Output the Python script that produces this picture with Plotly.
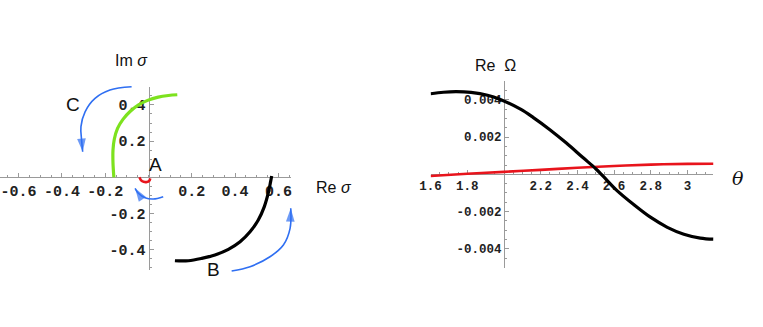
import numpy as np
import plotly.graph_objects as go

# ---------------- data: left panel (complex sigma plane) ----------------
green_re = [-0.160, -0.164, -0.164, -0.158, -0.143, -0.118, -0.084, -0.046, -0.004, 0.045, 0.092, 0.133]
green_im = [0.000, 0.080, 0.150, 0.210, 0.270, 0.320, 0.365, 0.400, 0.425, 0.443, 0.452, 0.456]

black_re = [0.122, 0.184, 0.246, 0.307, 0.369, 0.423, 0.469, 0.507, 0.535, 0.553, 0.564, 0.569]
black_im = [-0.461, -0.461, -0.448, -0.429, -0.398, -0.356, -0.301, -0.236, -0.162, -0.088, -0.024, 0.007]

red_re = [-0.042, -0.035, -0.022, -0.008, 0.004, 0.008]
red_im = [0.000, -0.015, -0.025, -0.026, -0.018, -0.006]

# direction arrows (A, B, C)
arrowC_re = [-0.078, -0.178, -0.247, -0.293, -0.312, -0.309, -0.304]
arrowC_im = [0.500, 0.482, 0.436, 0.362, 0.280, 0.206, 0.141]
arrowA_re = [0.068, 0.022, -0.016, -0.047, -0.062]
arrowA_im = [-0.107, -0.120, -0.113, -0.088, -0.061]
arrowB_re = [0.384, 0.469, 0.561, 0.623, 0.654, 0.657]
arrowB_im = [-0.518, -0.494, -0.439, -0.374, -0.282, -0.171]

left_xticks = [-0.6, -0.4, -0.2, 0.2, 0.4, 0.6]
left_xticktext = ["-0.6", "-0.4", "-0.2", "0.2", "0.4", "0.6"]
left_yticks = [-0.4, -0.2, 0.2, 0.4]
left_yticktext = ["-0.4", "-0.2", "0.2", "0.4"]

# ---------------- data: right panel (Re Omega vs theta) ----------------
theta_black = [1.60, 1.67, 1.74, 1.82, 1.91, 1.98, 2.09, 2.16, 2.25, 2.34, 2.43,
               2.50, 2.54, 2.61, 2.71, 2.80, 2.89, 2.98, 3.07, 3.1416]
omega_black = [0.00433, 0.00441, 0.00444, 0.00440, 0.00425, 0.00402, 0.00350, 0.00305,
               0.00240, 0.00168, 0.00090, 0.00030, -0.00010, -0.00082, -0.00165,
               -0.00232, -0.00285, -0.00322, -0.00343, -0.00349]
theta_red = [1.6, 1.8, 2.0, 2.2, 2.4, 2.6, 2.8, 3.0, 3.1416]
omega_red = [-0.00009, 0.00003, 0.00013, 0.00024, 0.00035, 0.00045, 0.00052, 0.00056, 0.00057]

right_xticks = [1.6, 1.8, 2.2, 2.4, 2.6, 2.8, 3.0]
right_xticktext = ["1.6", "1.8", "2.2", "2.4", "2.6", "2.8", "3"]
right_yticks = [-0.004, -0.002, 0.002, 0.004]
right_yticktext = ["-0.004", "-0.002", "0.002", "0.004"]

# ---------------- styling ----------------
W, H = 763, 327
AX = "#9a9a9a"
GREEN = "#7de21e"
RED = "#e8141c"
BLUE = "#2f6ff2"
TICKFONT_L = dict(family="Liberation Mono", size=15, color="#222", weight="bold")
TICKFONT_R = dict(family="Liberation Mono", size=12.5, color="#222", weight="bold")
LABFONT = dict(family="Liberation Sans", size=16, color="#111")


def clamp(v):
    return min(1.0, max(0.0, v))


# left axes geometry (pixels)
L_x0px, L_pxu_x = 148.5, 216.5
L_y0px, L_pxu_y = 177.3, 181.0
L_xr = [-0.686, 0.66]
L_yr = [-0.512, 0.50]
L_dom_x = [clamp((L_x0px + L_xr[0] * L_pxu_x) / W), clamp((L_x0px + L_xr[1] * L_pxu_x) / W)]
L_xr[0] = (L_dom_x[0] * W - L_x0px) / L_pxu_x
L_dom_y = [clamp(1 - (L_y0px - L_yr[0] * L_pxu_y) / H), clamp(1 - (L_y0px - L_yr[1] * L_pxu_y) / H)]

# overlay (arrows) axes sharing the same scale, larger area
O_dom_x = [0.0, 0.48]
O_xr = [(O_dom_x[0] * W - L_x0px) / L_pxu_x, (O_dom_x[1] * W - L_x0px) / L_pxu_x]
O_yr = [(L_y0px - H) / L_pxu_y, L_y0px / L_pxu_y]

# right axes geometry
R_x0px, R_pxu_x = 504.0, 183.5  # theta = 2 at R_x0px
R_y0px, R_pxu_y = 174.3, 18600.0
R_xr = [1.6, np.pi]
R_yr = [-0.00505, 0.00503]
R_dom_x = [(R_x0px + (R_xr[0] - 2) * R_pxu_x) / W, (R_x0px + (R_xr[1] - 2) * R_pxu_x) / W]
R_dom_y = [1 - (R_y0px - R_yr[0] * R_pxu_y) / H, 1 - (R_y0px - R_yr[1] * R_pxu_y) / H]

fig = go.Figure()

# left curves
fig.add_trace(go.Scatter(x=green_re, y=green_im, mode="lines", line=dict(color=GREEN, width=3.2, shape="spline"),
                         xaxis="x", yaxis="y", hoverinfo="skip"))
fig.add_trace(go.Scatter(x=black_re, y=black_im, mode="lines", line=dict(color="black", width=3.2, shape="spline"),
                         xaxis="x", yaxis="y", hoverinfo="skip"))
fig.add_trace(go.Scatter(x=red_re, y=red_im, mode="lines", line=dict(color=RED, width=2.6, shape="spline"),
                         xaxis="x", yaxis="y", hoverinfo="skip"))

# arrows on overlay axes
for ax_re, ax_im in [(arrowC_re, arrowC_im), (arrowA_re, arrowA_im), (arrowB_re, arrowB_im)]:
    fig.add_trace(go.Scatter(x=ax_re, y=ax_im, mode="lines", line=dict(color=BLUE, width=1.6, shape="spline"),
                             xaxis="x3", yaxis="y3", hoverinfo="skip"))
    fig.add_trace(go.Scatter(x=ax_re[-2:], y=ax_im[-2:], mode="markers",
                             marker=dict(symbol="arrow", angleref="previous", size=[0, 14], color=BLUE,
                                         line=dict(width=0)),
                             xaxis="x3", yaxis="y3", hoverinfo="skip"))

# right curves
fig.add_trace(go.Scatter(x=theta_red, y=omega_red, mode="lines", line=dict(color=RED, width=2.6, shape="spline"),
                         xaxis="x2", yaxis="y2", hoverinfo="skip"))
fig.add_trace(go.Scatter(x=theta_black, y=omega_black, mode="lines",
                         line=dict(color="black", width=3.2, shape="spline"),
                         xaxis="x2", yaxis="y2", hoverinfo="skip"))


def minor_vals(lo, hi, step):
    n0 = int(np.ceil(lo / step - 1e-9))
    n1 = int(np.floor(hi / step + 1e-9))
    return [round(k * step, 6) for k in range(n0, n1 + 1)]


def axis_common():
    return dict(showline=True, linecolor=AX, linewidth=1, zeroline=False, showgrid=False, automargin=False,
                ticks="inside", ticklen=4, tickcolor=AX, tickwidth=1, anchor="free", fixedrange=True,
                layer="below traces")


fig.update_layout(
    width=W, height=H, margin=dict(l=0, r=0, t=0, b=0, autoexpand=False),
    paper_bgcolor="white", plot_bgcolor="rgba(0,0,0,0)", showlegend=False,
    xaxis=dict(**axis_common(), domain=L_dom_x, range=L_xr, position=1 - L_y0px / H,
               tickmode="array", tickvals=left_xticks, ticktext=left_xticktext, tickfont=TICKFONT_L,
               minor=dict(ticks="inside", ticklen=2, tickcolor=AX, tickvals=minor_vals(L_xr[0], L_xr[1], 0.05))),
    yaxis=dict(**axis_common(), domain=L_dom_y, range=L_yr, position=L_x0px / W,
               tickmode="array", tickvals=left_yticks, ticktext=left_yticktext, tickfont=TICKFONT_L,
               minor=dict(ticks="inside", ticklen=2, tickcolor=AX, tickvals=minor_vals(L_yr[0], L_yr[1], 0.05))),
    xaxis2=dict(**axis_common(), domain=R_dom_x, range=list(R_xr), position=1 - R_y0px / H,
                tickmode="array", tickvals=right_xticks, ticktext=right_xticktext, tickfont=TICKFONT_R,
                minor=dict(ticks="inside", ticklen=2, tickcolor=AX, tickvals=minor_vals(R_xr[0], R_xr[1], 0.05))),
    yaxis2=dict(**axis_common(), domain=R_dom_y, range=R_yr, position=R_x0px / W,
                tickmode="array", tickvals=right_yticks, ticktext=right_yticktext, tickfont=TICKFONT_R,
                minor=dict(ticks="inside", ticklen=2, tickcolor=AX, tickvals=minor_vals(R_yr[0], R_yr[1], 0.0005))),
    xaxis3=dict(domain=O_dom_x, range=O_xr, visible=False, anchor="y3", fixedrange=True, automargin=False),
    yaxis3=dict(domain=[0, 1], range=O_yr, visible=False, anchor="x3", fixedrange=True, automargin=False),
)

annotations = [
    dict(text="Im <i>σ</i>", x=-0.078, y=0.645, xref="x3", yref="y3", font=LABFONT),
    dict(text="Re <i>σ</i>", x=0.857, y=-0.054, xref="x3", yref="y3", font=LABFONT),
    dict(text="A", x=0.030, y=0.068, xref="x3", yref="y3", font=dict(family="Liberation Sans", size=19, color="#111")),
    dict(text="B", x=0.300, y=-0.512, xref="x3", yref="y3", font=dict(family="Liberation Sans", size=19, color="#111")),
    dict(text="C", x=-0.347, y=0.400, xref="x3", yref="y3", font=dict(family="Liberation Sans", size=19, color="#111")),
    dict(text="Re  Ω", x=496 / W, y=1 - 65 / H, xref="paper", yref="paper", font=LABFONT),
    dict(text="<i>θ</i>", x=738 / W, y=1 - 178 / H, xref="paper", yref="paper",
         font=dict(family="DejaVu Serif", size=19, color="#111")),
]
for a in annotations:
    a.update(showarrow=False, xanchor="center", yanchor="middle")
fig.update_layout(annotations=annotations)

fig.write_html("out.html", include_plotlyjs=True, config={"displayModeBar": False, "staticPlot": True},
               post_script="document.body.style.margin='0px';document.body.style.overflow='hidden';")
